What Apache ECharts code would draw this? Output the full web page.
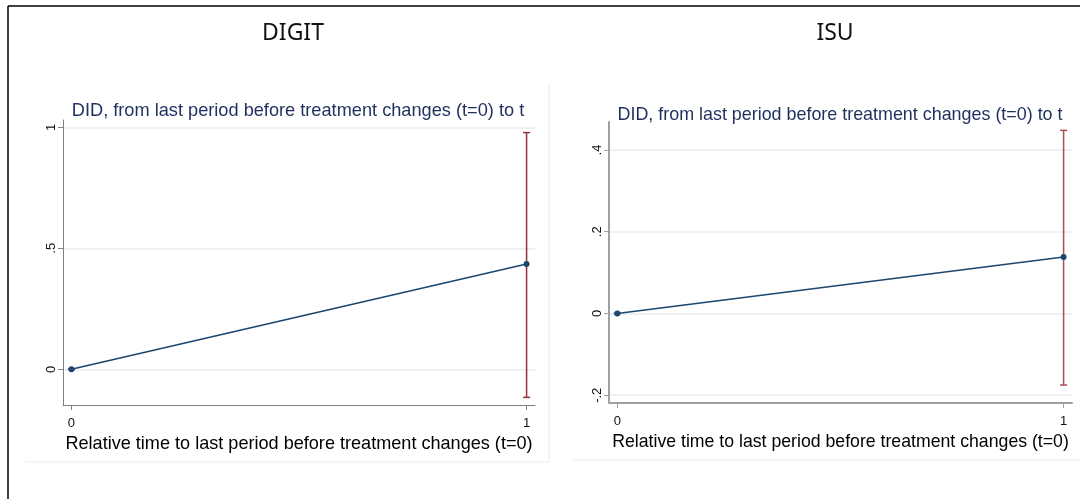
<!DOCTYPE html>
<html>
<head>
<meta charset="utf-8">
<script src="https://cdn.jsdelivr.net/npm/echarts@6/dist/echarts.min.js"></script>
<style>
  html, body { margin: 0; padding: 0; background: #fff; }
  #chart { width: 1080px; height: 499px; }
</style>
</head>
<body>
<div id="chart"></div>
<script>
// data
var panelNames = ['DIGIT', 'ISU'];
var periods = [0, 1];
var xTicks = [0, 1];

var digitEst = [0, 0.435];
var digitLo = [0, -0.116];
var digitHi = [0, 0.978];
var digitYTicks = [0, 0.5, 1];

var isuEst = [0, 0.138];
var isuLo = [0, -0.175];
var isuHi = [0, 0.448];
var isuYTicks = [-0.2, 0, 0.2, 0.4];

var subTitle = 'DID, from last period before treatment changes (t=0) to t';
var xTitle = 'Relative time to last period before treatment changes (t=0)';

var navy = '#1a476f';
var sans = 'Liberation Sans, Arial, sans-serif';

function stataLabel(v) {
  return String(v).replace(/^(-?)0\./, '$1.');
}

function errorBars(color) {
  return function (params, api) {
    var x = api.value(0);
    var lo = api.coord([x, api.value(1)]);
    var hi = api.coord([x, api.value(2)]);
    var w = 3.5;
    var st = { stroke: color, lineWidth: 1.5 };
    return {
      type: 'group',
      children: [
        { type: 'line', shape: { x1: lo[0], y1: lo[1], x2: hi[0], y2: hi[1] }, style: st },
        { type: 'line', shape: { x1: lo[0] - w, y1: lo[1], x2: lo[0] + w, y2: lo[1] }, style: st },
        { type: 'line', shape: { x1: hi[0] - w, y1: hi[1], x2: hi[0] + w, y2: hi[1] }, style: st }
      ]
    };
  };
}

function pts(a, b, c) {
  return periods.map(function (t, i) { return c ? [t, a[i], b[i]] : [t, a[i]]; });
}

function xAxisOpt(idx, min, max, axisColor, axisWidth, nameSize) {
  return {
    gridIndex: idx, type: 'value', min: min, max: max,
    name: xTitle, nameLocation: 'middle', nameGap: 24,
    nameTextStyle: { fontFamily: sans, fontSize: nameSize, color: '#000' },
    axisLine: { onZero: false, lineStyle: { color: axisColor, width: axisWidth } },
    axisTick: { length: 5, customValues: xTicks, lineStyle: { color: axisColor } },
    axisLabel: { customValues: xTicks, margin: 12, fontFamily: sans, fontSize: 13, color: '#111' },
    splitLine: { show: false }
  };
}

function yAxisOpt(idx, min, max, ticks, axisColor, axisWidth) {
  return {
    gridIndex: idx, type: 'value', min: min, max: max,
    axisLine: { show: true, onZero: false, lineStyle: { color: axisColor, width: axisWidth } },
    axisTick: { show: true, length: 5, customValues: ticks, lineStyle: { color: axisColor } },
    axisLabel: {
      customValues: ticks, rotate: 90, margin: 5, fontFamily: sans, fontSize: 13, color: '#111',
      formatter: stataLabel
    },
    splitLine: { show: true, lineStyle: { color: '#e6eef0', width: 1.5 } }
  };
}

var chart = echarts.init(document.getElementById('chart'));
chart.setOption({
  animation: false,
  backgroundColor: '#fff',
  title: [
    { text: panelNames[0], left: 293, top: 22, textAlign: 'center', padding: 0,
      textStyle: { fontFamily: 'Noto Sans', fontSize: 23, fontWeight: 'normal', color: '#111' } },
    { text: panelNames[1], left: 835, top: 22, textAlign: 'center', padding: 0,
      textStyle: { fontFamily: 'Noto Sans', fontSize: 23, fontWeight: 'normal', color: '#111' } },
    { text: subTitle, left: 298, top: 102, textAlign: 'center', padding: 0,
      textStyle: { fontFamily: sans, fontSize: 18.2, fontWeight: 'normal', color: '#1f2f5e' } },
    { text: subTitle, left: 840, top: 106, textAlign: 'center', padding: 0,
      textStyle: { fontFamily: sans, fontSize: 17.9, fontWeight: 'normal', color: '#1f2f5e' } }
  ],
  graphic: [
    { type: 'line', shape: { x1: 8, y1: 6, x2: 1080, y2: 6 }, style: { stroke: '#000', lineWidth: 1.5 } },
    { type: 'line', shape: { x1: 8, y1: 6, x2: 8, y2: 499 }, style: { stroke: '#000', lineWidth: 1.5 } },
    { type: 'line', shape: { x1: 549, y1: 83, x2: 549, y2: 462 }, style: { stroke: '#e6e6e6', lineWidth: 1 } },
    { type: 'line', shape: { x1: 25, y1: 462, x2: 549, y2: 462 }, style: { stroke: '#ececec', lineWidth: 1 } },
    { type: 'line', shape: { x1: 573, y1: 460, x2: 1080, y2: 460 }, style: { stroke: '#ececec', lineWidth: 1 } }
  ],
  grid: [
    { left: 63, top: 120, width: 472, height: 285 },
    { left: 609, top: 122, width: 463, height: 281 }
  ],
  xAxis: [
    xAxisOpt(0, -0.0185, 1.0185, '#7f7f7f', 1, 18.1),
    xAxisOpt(1, -0.0186, 1.0188, '#a0a0a0', 2, 17.7)
  ],
  yAxis: [
    yAxisOpt(0, -0.1475, 1.03, digitYTicks, '#7f7f7f', 1),
    yAxisOpt(1, -0.219, 0.4685, isuYTicks, '#a0a0a0', 2)
  ],
  series: [
    { type: 'custom', xAxisIndex: 0, yAxisIndex: 0, renderItem: errorBars('#93323c'),
      encode: { x: 0, y: [1, 2] }, data: pts(digitLo, digitHi, true), z: 2 },
    { type: 'line', xAxisIndex: 0, yAxisIndex: 0, data: pts(digitEst), z: 3,
      symbol: 'circle', symbolSize: 6, color: navy,
      lineStyle: { color: navy, width: 1.5 }, itemStyle: { color: navy } },
    { type: 'custom', xAxisIndex: 1, yAxisIndex: 1, renderItem: errorBars('#ad4c55'),
      encode: { x: 0, y: [1, 2] }, data: pts(isuLo, isuHi, true), z: 2 },
    { type: 'line', xAxisIndex: 1, yAxisIndex: 1, data: pts(isuEst), z: 3,
      symbol: 'circle', symbolSize: 6, color: navy,
      lineStyle: { color: navy, width: 1.5 }, itemStyle: { color: navy } }
  ]
});
</script>
</body>
</html>
